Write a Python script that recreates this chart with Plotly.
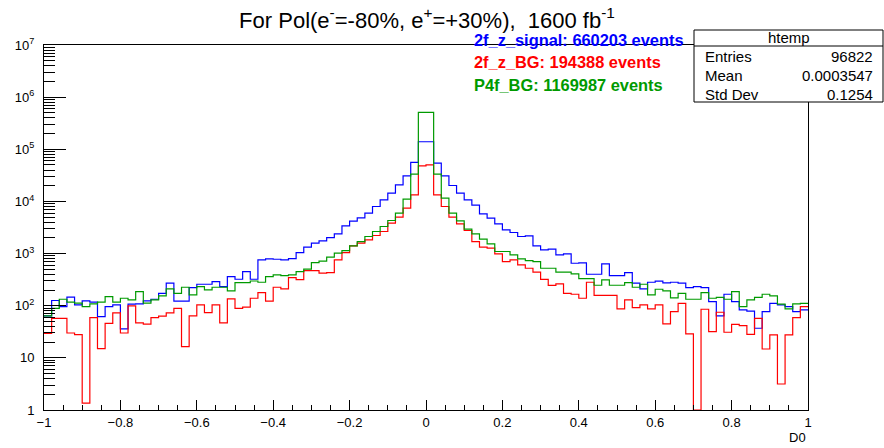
import numpy as np
import plotly.graph_objects as go

# D0 distribution, 100 bins on [-1, 1]
x_min, x_max, n_bins = -1.0, 1.0, 100

signal_2f_z = [
    64, 126, 96, 146, 104, 124, 117, 62, 96, 104,
    36, 107, 108, 124, 133, 173, 270, 123, 123, 222,
    258, 258, 290, 233, 362, 322, 452, 322, 755, 790,
    778, 755, 802, 1040, 1324, 1580, 1753, 2031, 2390, 3404,
    4182, 4846, 5958, 8000, 10740, 14420, 20840, 31000, 55900, 139400,
    139400, 54200, 31000, 20200, 14420, 10740, 8480, 5780, 4775, 3716,
    2851, 2534, 2123, 2187, 1405, 1178, 1213, 942, 986, 652,
    662, 401, 401, 634, 379, 379, 432, 270, 210, 282,
    295, 274, 282, 270, 223, 233, 223, 120, 64, 166,
    120, 83, 79, 37, 77, 111, 104, 96, 77, 83,
]

bg_2f_z = [
    29.5, 57, 57, 30, 28, 1.35, 59, 15, 46, 73,
    30, 99, 47, 44.5, 59, 63, 73, 89, 16.4, 64,
    104, 74, 104, 47, 135, 89, 94, 139, 178, 123,
    226, 210, 346, 317, 472, 472, 420, 432, 757, 1047,
    1405, 1581, 1833, 2219, 2649, 3826, 4989, 7426, 13400, 48200,
    50300, 13400, 8000, 4989, 3716, 2770, 1702, 1325, 1268, 987,
    703, 757, 607, 523, 439, 320, 245, 262, 173, 166,
    139, 282, 158, 158, 158, 87, 129, 92, 104, 87,
    104, 45, 77, 111, 28.8, 1.0, 85.5, 31.9, 75, 31,
    44, 41.5, 28.3, 57.4, 14.8, 27.5, 3.15, 27.5, 59, 96,
]

bg_p4f = [
    64, 89, 133, 117, 112, 96, 108, 117, 150, 117,
    139, 129, 187, 112, 129, 154, 210, 173, 226, 161,
    233, 201, 226, 226, 192, 277, 277, 298, 282, 362,
    390, 378, 390, 452, 501, 673, 714, 852, 1016, 1143,
    1405, 1702, 2123, 2649, 3304, 4306, 5954, 11050, 33370, 509000,
    509000, 33370, 11560, 5954, 4243, 2937, 2390, 1888, 1536, 1095,
    1095, 944, 791, 735, 703, 523, 523, 439, 439, 408,
    331, 331, 247, 312, 247, 247, 277, 226, 258, 161,
    207, 192, 141, 173, 133, 133, 178, 139, 145, 133,
    187, 96, 129, 145, 166, 154, 107, 87, 108, 111,
]

series_names = ["2f_z_signal", "2f_z_BG", "P4f_BG"]
series_events = [660203, 194388, 1169987]
series_colors = ["#0000ff", "#ff0000", "#009a00"]

stats_labels = ["Entries", "Mean", "Std Dev"]
stats_values = ["96822", "0.0003547", "0.1254"]

x_tick_vals = [-1, -0.8, -0.6, -0.4, -0.2, 0, 0.2, 0.4, 0.6, 0.8, 1]
x_tick_text = ["\u22121", "\u22120.8", "\u22120.6", "\u22120.4", "\u22120.2", "0",
               "0.2", "0.4", "0.6", "0.8", "1"]
y_tick_vals = [1, 10, 1e2, 1e3, 1e4, 1e5, 1e6, 1e7]
y_tick_text = ["1", "10", "10<sup>2</sup>", "10<sup>3</sup>", "10<sup>4</sup>",
               "10<sup>5</sup>", "10<sup>6</sup>", "10<sup>7</sup>"]

FONT = "Liberation Sans, Arial, Helvetica, sans-serif"
W, H = 884, 448
ML, MR, MT, MB = 44, 76, 45, 38
PW, PH = W - ML - MR, H - MT - MB


def px(xp):
    return (xp - ML) / PW


def py(yp):
    return (H - MB - yp) / PH


edges = np.linspace(x_min, x_max, n_bins + 1)

fig = go.Figure()
for vals, name, col in zip([signal_2f_z, bg_2f_z, bg_p4f], series_names, series_colors):
    fig.add_trace(go.Scatter(
        x=edges, y=list(vals) + [vals[-1]],
        mode="lines", line=dict(shape="hv", color=col, width=1.2),
        name=name, showlegend=False, hoverinfo="skip",
    ))

minor_x = [v for v in np.round(np.arange(-1, 1.0001, 0.05), 2) if abs(round(v / 0.2) * 0.2 - v) > 1e-6]
minor_y = [k * 10 ** d for d in range(0, 7) for k in range(2, 10)]

fig.update_xaxes(
    range=[x_min, x_max], showgrid=False, zeroline=False,
    showline=True, mirror=True, linecolor="black", linewidth=1,
    ticks="inside", ticklen=10, tickcolor="black", tickwidth=1,
    tickvals=x_tick_vals, ticktext=x_tick_text,
    tickfont=dict(family=FONT, size=13, color="black"),
    minor=dict(tickvals=minor_x, ticks="inside", ticklen=5, tickcolor="black", tickwidth=1),
)
fig.update_yaxes(
    type="log", range=[0, 7], showgrid=False, zeroline=False,
    showline=True, mirror=True, linecolor="black", linewidth=1,
    ticks="inside", ticklen=22, tickcolor="black", tickwidth=1,
    tickvals=y_tick_vals, ticktext=y_tick_text, ticklabelstandoff=6,
    tickfont=dict(family=FONT, size=13, color="black"),
    minor=dict(tickvals=minor_y, ticks="inside", ticklen=11, tickcolor="black", tickwidth=1),
)

annotations = []
# series labels
for i, (name, ev, col) in enumerate(zip(series_names, series_events, series_colors)):
    annotations.append(dict(
        x=px(472), y=py(40 + 22.5 * i), xref="paper", yref="paper",
        xanchor="left", yanchor="middle", showarrow=False,
        text=f"<b>{name}: {ev} events</b>",
        font=dict(family=FONT, size=16.4, color=col),
    ))
# axis title
annotations.append(dict(
    x=px(797), y=py(437), xref="paper", yref="paper",
    xanchor="center", yanchor="middle", showarrow=False,
    text="D0", font=dict(family=FONT, size=13, color="black"),
))

# statistics box
box_l, box_r, box_t, box_b, box_sep = 694, 883, 30, 102, 46
shapes = [
    dict(type="rect", xref="paper", yref="paper",
         x0=px(box_l), x1=px(box_r), y0=py(box_b), y1=py(box_t),
         fillcolor="white", line=dict(color="black", width=1), layer="above"),
    dict(type="line", xref="paper", yref="paper",
         x0=px(box_l), x1=px(box_r), y0=py(box_sep), y1=py(box_sep),
         line=dict(color="black", width=1), layer="above"),
]
annotations.append(dict(
    x=px((box_l + box_r) / 2), y=py(38), xref="paper", yref="paper",
    xanchor="center", yanchor="middle", showarrow=False,
    text="htemp", font=dict(family=FONT, size=15, color="black"),
))
for i, (lab, val) in enumerate(zip(stats_labels, stats_values)):
    yy = py(57 + 18.5 * i)
    annotations.append(dict(
        x=px(703), y=yy, xref="paper", yref="paper",
        xanchor="left", yanchor="middle", showarrow=False,
        text=lab, font=dict(family=FONT, size=15, color="black"),
    ))
    annotations.append(dict(
        x=px(875), y=yy, xref="paper", yref="paper",
        xanchor="right", yanchor="middle", showarrow=False,
        text=val, font=dict(family=FONT, size=15, color="black"),
    ))

fig.update_layout(
    width=W, height=H,
    margin=dict(l=ML, r=MR, t=MT, b=MB),
    paper_bgcolor="white", plot_bgcolor="white",
    title=dict(
        text="For Pol(e<sup>-</sup>=-80%, e<sup>+</sup>=+30%),  1600 fb<sup>-1</sup>",
        xref="container", x=427 / W, xanchor="center", y=1 - 20 / H, yanchor="middle",
        font=dict(family=FONT, size=22, color="black"),
    ),
    annotations=annotations, shapes=shapes,
    showlegend=False,
)

fig.write_html("out.html")
